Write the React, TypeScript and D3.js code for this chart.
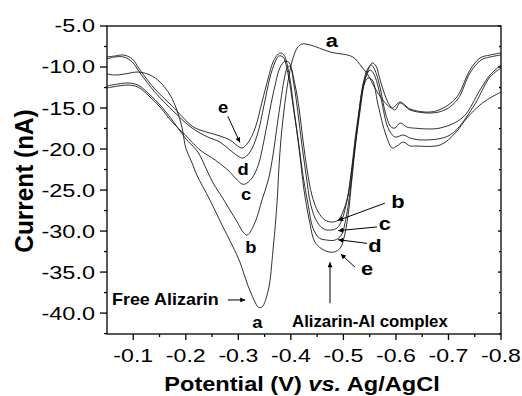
import React, { useRef, useEffect } from 'react'
import * as d3 from 'd3'

type Pt = [number, number] // [potential (V), current (nA)]

// curve a: free alizarin
const curveA: Pt[] = [
  [-0.05, -10.85], [-0.065, -10.98], [-0.084, -10.85], [-0.109, -10.61], [-0.132, -10.98],
  [-0.151, -11.83], [-0.17, -13.41], [-0.183, -15.24], [-0.193, -17.44], [-0.2, -19.88],
  [-0.212, -21.71], [-0.221, -23.17], [-0.246, -26.22], [-0.269, -29.27], [-0.29, -31.95],
  [-0.303, -33.78], [-0.318, -36.59], [-0.33, -38.41], [-0.338, -39.27], [-0.345, -39.27],
  [-0.357, -37.2], [-0.366, -32.32], [-0.374, -26.22], [-0.377, -22.56], [-0.381, -18.9],
  [-0.387, -15.24], [-0.395, -11.59], [-0.402, -9.39], [-0.412, -7.68], [-0.421, -7.2],
  [-0.437, -7.32], [-0.475, -8.17], [-0.518, -8.78], [-0.535, -10.0], [-0.547, -10.98],
  [-0.56, -12.56], [-0.575, -14.02], [-0.593, -15.0], [-0.608, -14.27], [-0.627, -15.12],
  [-0.665, -15.49], [-0.69, -15.0], [-0.716, -13.66], [-0.741, -10.37], [-0.76, -8.9],
  [-0.779, -8.54], [-0.8, -8.29],
]

const curveB: Pt[] = [
  [-0.05, -12.32], [-0.071, -12.07], [-0.09, -11.95], [-0.109, -12.2], [-0.132, -13.41],
  [-0.151, -14.63], [-0.174, -16.46], [-0.199, -18.66], [-0.223, -20.37], [-0.24, -22.56],
  [-0.252, -24.15], [-0.269, -25.85], [-0.284, -27.44], [-0.299, -29.02], [-0.309, -30.12],
  [-0.317, -30.49], [-0.332, -28.9], [-0.345, -26.22], [-0.357, -23.78], [-0.366, -20.73],
  [-0.374, -17.07], [-0.381, -14.02], [-0.387, -11.59], [-0.393, -10.12], [-0.398, -9.88],
  [-0.408, -12.2], [-0.416, -15.24], [-0.423, -18.9], [-0.431, -22.56], [-0.44, -25.61],
  [-0.452, -27.68], [-0.465, -28.66], [-0.478, -28.9], [-0.49, -28.66], [-0.499, -27.68],
  [-0.509, -25.61], [-0.516, -22.56], [-0.524, -18.9], [-0.532, -15.24], [-0.539, -12.2],
  [-0.547, -10.37], [-0.555, -9.51], [-0.562, -9.88], [-0.57, -11.59], [-0.579, -13.41],
  [-0.589, -14.76], [-0.598, -15.24], [-0.608, -14.39], [-0.617, -14.76], [-0.627, -15.24],
  [-0.665, -15.61], [-0.693, -15.24], [-0.718, -13.9], [-0.741, -10.73], [-0.762, -9.15],
  [-0.779, -8.78], [-0.8, -8.54],
]

const curveC: Pt[] = [
  [-0.05, -12.56], [-0.071, -12.32], [-0.09, -12.2], [-0.109, -12.44], [-0.132, -13.66],
  [-0.151, -14.88], [-0.174, -16.71], [-0.199, -18.29], [-0.227, -20.12], [-0.256, -21.34],
  [-0.28, -22.56], [-0.298, -23.78], [-0.307, -24.27], [-0.313, -24.27], [-0.326, -23.54],
  [-0.338, -21.95], [-0.349, -18.9], [-0.36, -15.24], [-0.37, -12.2], [-0.379, -10.12],
  [-0.389, -9.27], [-0.397, -9.51], [-0.406, -12.2], [-0.414, -15.85], [-0.421, -19.51],
  [-0.429, -23.17], [-0.438, -26.83], [-0.45, -28.9], [-0.463, -29.76], [-0.475, -29.88],
  [-0.488, -29.63], [-0.497, -28.66], [-0.507, -26.22], [-0.515, -22.8], [-0.522, -18.9],
  [-0.53, -15.24], [-0.537, -12.2], [-0.545, -10.37], [-0.553, -9.76], [-0.56, -10.37],
  [-0.57, -12.56], [-0.581, -15.85], [-0.591, -17.32], [-0.598, -17.44], [-0.608, -16.83],
  [-0.621, -17.32], [-0.633, -17.44], [-0.684, -17.44], [-0.728, -16.1], [-0.76, -12.8],
  [-0.779, -10.98], [-0.8, -9.76],
]

const curveD: Pt[] = [
  [-0.05, -9.02], [-0.065, -8.78], [-0.082, -8.78], [-0.098, -9.39], [-0.113, -10.73],
  [-0.141, -13.05], [-0.174, -15.24], [-0.212, -17.44], [-0.242, -18.54], [-0.265, -19.15],
  [-0.284, -20.12], [-0.299, -20.85], [-0.309, -21.1], [-0.322, -20.37], [-0.336, -18.29],
  [-0.349, -14.63], [-0.36, -11.34], [-0.37, -9.39], [-0.377, -8.66], [-0.385, -8.78],
  [-0.395, -10.98], [-0.404, -14.63], [-0.414, -18.9], [-0.423, -23.17], [-0.433, -26.83],
  [-0.442, -29.63], [-0.454, -30.85], [-0.469, -31.1], [-0.484, -31.1], [-0.496, -30.49],
  [-0.505, -28.41], [-0.513, -25.0], [-0.52, -20.73], [-0.528, -16.46], [-0.535, -13.05],
  [-0.543, -11.1], [-0.551, -10.37], [-0.558, -10.85], [-0.57, -13.41], [-0.583, -17.07],
  [-0.593, -18.29], [-0.6, -18.54], [-0.614, -18.29], [-0.627, -18.66], [-0.652, -18.9],
  [-0.703, -18.29], [-0.747, -14.88], [-0.779, -11.22], [-0.8, -10.12],
]

const curveE: Pt[] = [
  [-0.05, -8.78], [-0.065, -8.66], [-0.082, -8.54], [-0.098, -9.02], [-0.113, -10.37],
  [-0.141, -12.68], [-0.174, -14.76], [-0.212, -17.2], [-0.227, -17.68], [-0.246, -18.05],
  [-0.265, -18.41], [-0.284, -18.9], [-0.299, -19.63], [-0.307, -19.88], [-0.318, -19.27],
  [-0.332, -17.44], [-0.345, -14.27], [-0.357, -11.34], [-0.366, -9.39], [-0.376, -8.41],
  [-0.381, -8.29], [-0.387, -8.54], [-0.397, -10.98], [-0.406, -15.24], [-0.416, -20.12],
  [-0.425, -25.0], [-0.435, -28.66], [-0.444, -31.1], [-0.452, -31.83], [-0.467, -32.44],
  [-0.482, -32.56], [-0.494, -32.07], [-0.501, -30.85], [-0.509, -28.05], [-0.516, -23.78],
  [-0.524, -18.9], [-0.532, -14.63], [-0.539, -12.2], [-0.547, -11.34], [-0.555, -11.59],
  [-0.566, -14.63], [-0.581, -18.29], [-0.593, -19.88], [-0.602, -19.63], [-0.614, -19.15],
  [-0.627, -19.63], [-0.636, -19.63], [-0.684, -19.51], [-0.713, -18.05], [-0.735, -16.22],
  [-0.76, -14.63], [-0.779, -13.78], [-0.8, -13.05],
]

const seriesKeys = ['a', 'b', 'c', 'd', 'e']
const seriesData = [curveA, curveB, curveC, curveD, curveE]

const xTicks = [-0.1, -0.2, -0.3, -0.4, -0.5, -0.6, -0.7, -0.8]
const xMinor = [-0.15, -0.25, -0.35, -0.45, -0.55, -0.65, -0.75]
const yTicks = [-5, -10, -15, -20, -25, -30, -35, -40]
const yMinor = [-7.5, -12.5, -17.5, -22.5, -27.5, -32.5, -37.5, -42.5]

const W = 522
const H = 396
const M = { left: 107, right: 501, top: 26, bottom: 334 }

export default function App() {
  const svgRef = useRef<SVGSVGElement>(null)

  useEffect(() => {
    if (!svgRef.current) return
    const svg = d3.select(svgRef.current)
    svg.selectAll('*').remove()

    const x = d3.scaleLinear().domain([-0.05, -0.8]).range([M.left, M.right])
    const y = d3.scaleLinear().domain([-5, -42.55]).range([M.top, M.bottom])
    // plain hyphen as in the original, not the unicode minus
    const fmt = (v: number) => d3.format('.1f')(v).replace('\u2212', '-')

    svg
      .append('defs')
      .append('marker')
      .attr('id', 'arr')
      .attr('viewBox', '0 0 10 10')
      .attr('refX', 10)
      .attr('refY', 5)
      .attr('markerWidth', 6)
      .attr('markerHeight', 5)
      .attr('orient', 'auto')
      .append('path')
      .attr('d', 'M0,0L10,5L0,10z')
      .attr('fill', '#000')

    // text drawn a bit wider than tall, like the scanned figure
    const label = (px: number, py: number, str: string, size: number, sx: number, anchor = 'middle') =>
      svg
        .append('g')
        .attr('transform', `translate(${px},${py}) scale(${sx},1)`)
        .append('text')
        .attr('text-anchor', anchor)
        .attr('font-size', size)
        .attr('font-weight', 'bold')
        .attr('fill', '#000')
        .text(str)

    const arrow = (x1: number, y1: number, x2: number, y2: number) =>
      svg
        .append('line')
        .attr('x1', x(x1))
        .attr('y1', y(y1))
        .attr('x2', x(x2))
        .attr('y2', y(y2))
        .attr('stroke', '#000')
        .attr('stroke-width', 1)
        .attr('marker-end', 'url(#arr)')

    // curves
    const line = d3
      .line<Pt>()
      .x(d => x(d[0]))
      .y(d => y(d[1]))
      .curve(d3.curveCatmullRom.alpha(0.5))

    svg
      .append('g')
      .selectAll('path')
      .data(seriesData)
      .enter()
      .append('path')
      .attr('class', (_d, i) => `curve-${seriesKeys[i]}`)
      .attr('d', d => line(d))
      .attr('fill', 'none')
      .attr('stroke', '#1a1a1a')
      .attr('stroke-width', 0.9)

    // frame
    const axis = svg.append('g').attr('stroke', '#000').attr('stroke-width', 1.3)
    axis.append('rect')
      .attr('x', M.left)
      .attr('y', M.top)
      .attr('width', M.right - M.left)
      .attr('height', M.bottom - M.top)
      .attr('fill', 'none')

    xTicks.forEach(v => {
      axis.append('line').attr('x1', x(v)).attr('x2', x(v)).attr('y1', M.bottom).attr('y2', M.bottom + 6)
    })
    xMinor.forEach(v => {
      axis.append('line').attr('x1', x(v)).attr('x2', x(v)).attr('y1', M.bottom).attr('y2', M.bottom + 3)
    })
    yTicks.forEach(v => {
      axis.append('line').attr('x1', M.left - 7).attr('x2', M.left).attr('y1', y(v)).attr('y2', y(v))
      axis.append('line').attr('x1', M.right - 3).attr('x2', M.right).attr('y1', y(v)).attr('y2', y(v))
    })
    yMinor.forEach(v => {
      axis.append('line').attr('x1', M.left - 3).attr('x2', M.left).attr('y1', y(v)).attr('y2', y(v))
      axis.append('line').attr('x1', M.right - 2).attr('x2', M.right).attr('y1', y(v)).attr('y2', y(v))
    })

    xTicks.forEach(v => {
      label(x(v), M.bottom + 28, fmt(v), 18.5, 1.25).attr('font-weight', 'normal')
    })
    yTicks.forEach(v => {
      label(M.left - 12, y(v), fmt(v), 18.5, 1.27, 'end').attr('font-weight', 'normal').attr('dy', '0.35em')
    })

    // axis titles
    const xt = label((M.left + M.right) / 2 - 2, 391, 'Potential (V) ', 19.5, 1.21)
    xt.append('tspan').attr('font-style', 'italic').text('vs.')
    xt.append('tspan').text(' Ag/AgCl')

    svg
      .append('g')
      .attr('transform', `translate(33,${(M.top + M.bottom) / 2 + 1}) rotate(-90) scale(1.16,1.25)`)
      .append('text')
      .attr('text-anchor', 'middle')
      .attr('font-size', 21)
      .attr('font-weight', 'bold')
      .text('Current (nA)')

    // annotations
    label(x(-0.478), y(-7.56), 'a', 19, 1.15)

    label(x(-0.271), y(-15.6), 'e', 16, 1.15)
    arrow(-0.28, -16.0, -0.303, -19.2)
    label(x(-0.309), y(-23.2), 'd', 16, 1.15)
    label(x(-0.315), y(-26.2), 'c', 16, 1.15)
    label(x(-0.324), y(-32.7), 'b', 16, 1.15)
    label(x(-0.336), y(-41.8), 'a', 16, 1.15)

    label(x(-0.0595), y(-39.0), 'Free Alizarin', 16, 1.12, 'start')
    arrow(-0.28, -38.4, -0.313, -38.4)

    label(x(-0.4022), y(-41.7), 'Alizarin-Al complex', 16, 1.05, 'start')
    arrow(-0.4745, -38.8, -0.4745, -33.8)

    label(x(-0.604), y(-27.2), 'b', 19, 1.15)
    arrow(-0.579, -26.6, -0.49, -28.7)
    label(x(-0.579), y(-29.9), 'c', 19, 1.15)
    arrow(-0.564, -29.5, -0.49, -29.95)
    label(x(-0.56), y(-32.56), 'd', 19, 1.15)
    arrow(-0.545, -31.5, -0.49, -31.05)
    label(x(-0.545), y(-35.37), 'e', 19, 1.15)
    arrow(-0.522, -34.4, -0.495, -32.8)
  }, [])

  return (
    <svg
      ref={svgRef}
      width={W}
      height={H}
      fontFamily="'Liberation Sans', Arial, Helvetica, sans-serif"
      style={{ position: 'absolute', left: 0, top: 0, background: '#fff' }}
    />
  )
}
